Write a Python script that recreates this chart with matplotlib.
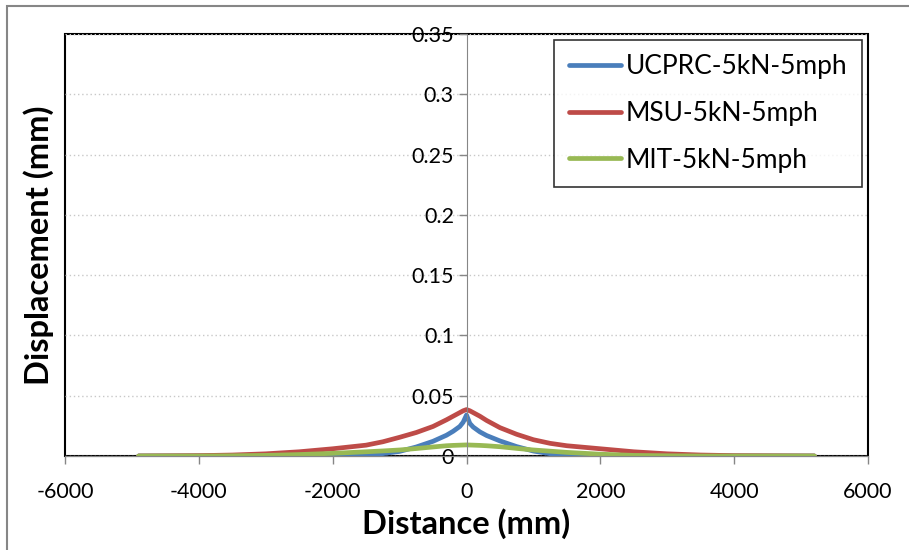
# Displacement profiles - 5kN at 5mph

import matplotlib.pyplot as plt
from matplotlib.patches import Rectangle

plt.rcParams['font.family'] = ['Lato', 'DejaVu Sans']
plt.rcParams['axes.unicode_minus'] = False

# values
distance = [-4900, -4000, -3500, -3000, -2500, -2000, -1500, -1250, -1000, -750,
            -500, -300, -200, -100, -50, 0, 50, 100, 200, 300,
            500, 750, 1000, 1250, 1500, 2000, 2500, 3000, 3500, 4000, 5200]

ucprc = [0.0, 0.0, 0.0, 0.0, 0.0, 0.0, 0.0008, 0.002, 0.0038, 0.0075,
         0.0122, 0.0172, 0.0205, 0.0245, 0.028, 0.034, 0.027, 0.024, 0.02, 0.017,
         0.0125, 0.0078, 0.0041, 0.0019, 0.0008, 0.0, 0.0, 0.0, 0.0, 0.0, 0.0]

msu = [0.0, 0.0003, 0.0008, 0.0018, 0.0035, 0.006, 0.009, 0.0118, 0.0155, 0.0195,
       0.0245, 0.03, 0.033, 0.036, 0.0375, 0.0385, 0.0375, 0.036, 0.033, 0.0295,
       0.0235, 0.018, 0.0135, 0.0105, 0.0085, 0.006, 0.0035, 0.0018, 0.0008, 0.0003, 0.0]

mit = [0.0, 0.0, 0.0002, 0.0005, 0.0012, 0.0022, 0.0035, 0.0042, 0.005, 0.0062,
       0.0075, 0.0085, 0.0088, 0.009, 0.0091, 0.0092, 0.0091, 0.009, 0.0088, 0.0085,
       0.0077, 0.0063, 0.005, 0.004, 0.003, 0.0015, 0.0005, 0.0002, 0.0, 0.0, 0.0]

labels = ['UCPRC-5kN-5mph', 'MSU-5kN-5mph', 'MIT-5kN-5mph']
colors = ['#4A7EBB', '#BE4B48', '#98B954']

fig = plt.figure(figsize=(9.09, 5.5), dpi=100)
ax = fig.add_axes([65 / 909, 1 - 456 / 550, (868 - 65) / 909, (456 - 34) / 550])

for ys, lab, col in zip([ucprc, msu, mit], labels, colors):
    ax.plot(distance, ys, color=col, lw=3.4, label=lab, solid_capstyle='round')

ax.set_xlim(-6000, 6000)
ax.set_ylim(0, 0.35)
ax.set_xticks(range(-6000, 6001, 2000))
ax.set_yticks([0, 0.05, 0.1, 0.15, 0.2, 0.25, 0.3, 0.35])
ax.set_yticklabels(['0', '0.05', '0.1', '0.15', '0.2', '0.25', '0.3', '0.35'])
ax.grid(axis='y', linestyle=(0, (1, 2)), color='#C8C8C8', lw=1)
ax.set_axisbelow(True)

# axes cross at zero like the excel chart
ax.spines['left'].set_position(('data', 0))
ax.spines['left'].set_color('#868686')
ax.spines['bottom'].set_color('#868686')
ax.spines['top'].set_visible(False)
ax.spines['right'].set_visible(False)
ax.tick_params(axis='both', colors='#868686', labelcolor='black', labelsize=15.5,
               length=6, width=1)
ax.tick_params(axis='x', pad=13)
ax.tick_params(axis='y', pad=3)

# plot area frame
ax.add_patch(Rectangle((0, 0), 1, 1, transform=ax.transAxes, fill=False,
                       edgecolor='black', lw=1.5, clip_on=False, zorder=0.5))

ax.set_xlabel('Distance (mm)', fontsize=23.5, fontweight='bold', labelpad=4)
ax.set_ylabel('Displacement (mm)', fontsize=23.5, fontweight='bold')
ax.yaxis.set_label_coords(-0.014, 0.5)

leg = ax.legend(loc='upper right', bbox_to_anchor=(0.992, 0.986), fontsize=19,
                frameon=True, fancybox=False, edgecolor='black',
                handlelength=2.0, handletextpad=0.15, borderpad=0.55,
                borderaxespad=0, labelspacing=0.82)
leg.get_frame().set_linewidth(1.2)

# outer chart border
fig.patches.append(Rectangle((7 / 909, -0.5), 2, 1 - 6 / 550 + 0.5,
                             transform=fig.transFigure, fill=False,
                             edgecolor='#868686', lw=1.5))

fig.savefig('out.png', dpi=100)
